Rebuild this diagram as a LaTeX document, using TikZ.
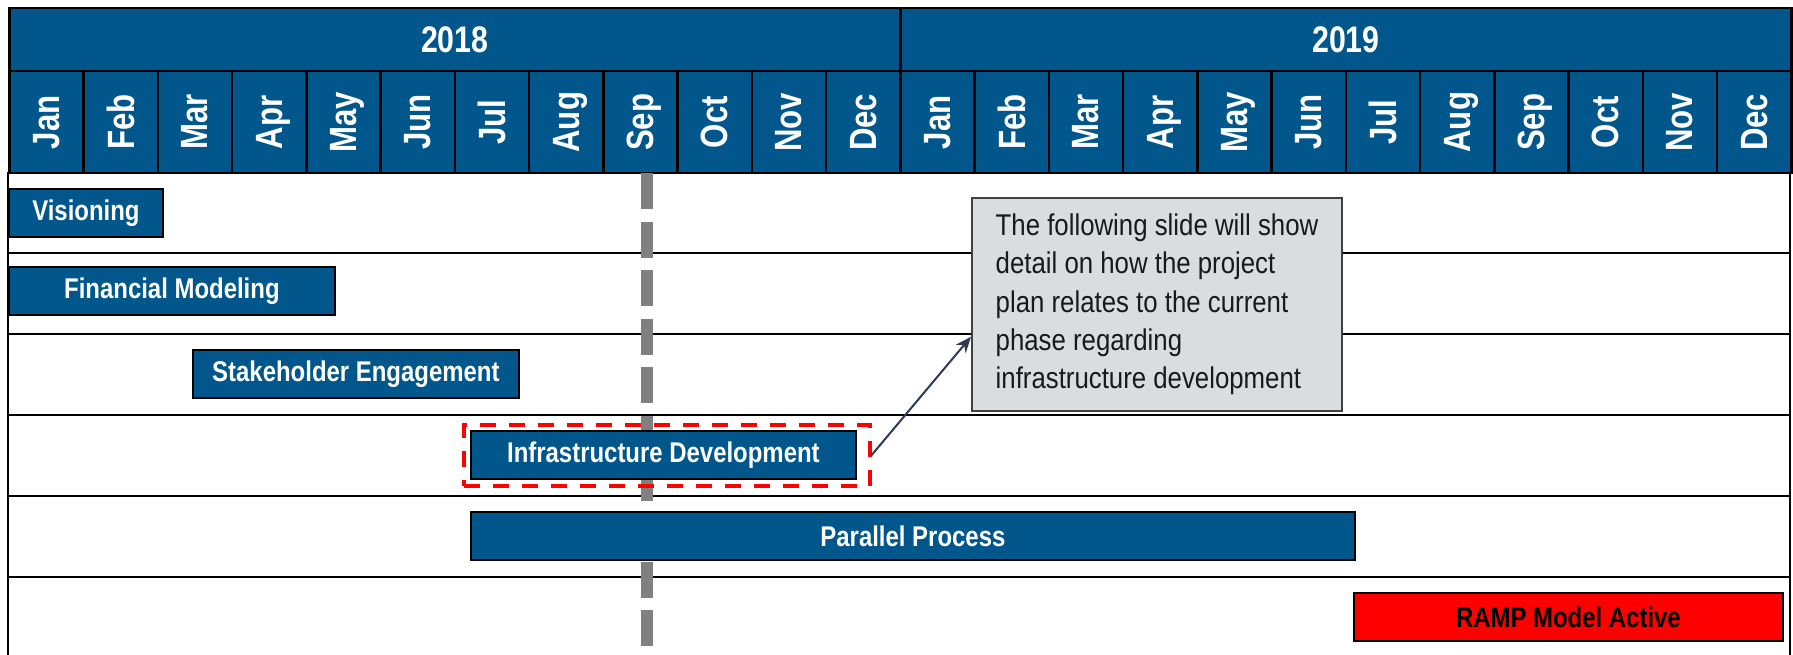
\documentclass[tikz,border=0pt]{standalone}
\usepackage{fontspec}
\setmainfont{Liberation Sans}
\newfontfamily\barfont{Liberation Sans}[FakeStretch=0.84]
\newfontfamily\hdrfont{Liberation Sans}[FakeStretch=0.82]
\newfontfamily\callfont{Liberation Sans}[FakeStretch=0.86]
\usetikzlibrary{arrows.meta,calc}
\definecolor{hdrblue}{RGB}{1,86,140}
\definecolor{calloutgray}{RGB}{218,221,223}
\definecolor{calloutedge}{RGB}{64,64,64}
\definecolor{connnavy}{RGB}{46,58,88}
\definecolor{markgray}{RGB}{128,128,128}
\begin{document}
\begin{tikzpicture}[x=1pt,y=-1pt,
  cell/.style={draw=black, line width=2.5pt, fill=hdrblue, text=white, inner sep=0pt, anchor=north west},
  yearcell/.style={cell, minimum width=891.125pt, minimum height=63pt, font=\hdrfont\bfseries\fontsize{37}{40}\selectfont},
  monthcell/.style={cell, minimum width=74.25pt, minimum height=102pt, font=\hdrfont\bfseries\fontsize{38}{40}\selectfont},
  rowline/.style={draw=black, line width=2.5pt},
  bar/.style={draw=black, line width=1.8pt, fill=hdrblue, text=white, inner sep=0pt, anchor=north west, minimum height=48pt, font=\barfont\bfseries\fontsize{28.5}{32}\selectfont},
  hlbox/.style={draw=red, line width=3.5pt, dash pattern=on 16pt off 13pt, inner sep=0pt, anchor=north west},
  marker/.style={draw=markgray, line width=12pt, dash pattern=on 36pt off 12.6pt},
  callout/.style={draw=calloutedge, line width=2pt, fill=calloutgray, text=black!90, anchor=north west, minimum width=370pt, minimum height=213pt, align=left, inner sep=0pt, font=\callfont\fontsize{30}{38.3}\selectfont},
  conn/.style={draw=connnavy, line width=2pt, -{Stealth[length=16pt,width=13pt]}}
]
\useasboundingbox (0,0) rectangle (1793,655);
\fill[white] (0,0) rectangle (1793,655);
% header
\node[yearcell] (y18) at (8,7) {2018};
\node[yearcell] (y19) at (899.125,7) {2019};
\foreach \mn [count=\i from 0] in {Jan,Feb,Mar,Apr,May,Jun,Jul,Aug,Sep,Oct,Nov,Dec,Jan,Feb,Mar,Apr,May,Jun,Jul,Aug,Sep,Oct,Nov,Dec}
  \node[monthcell] (m\i) at ({8+74.25*\i},70) {\rotatebox{90}{\raisebox{0pt}[\height][0pt]{\mn}}};
% grid
\foreach \yy in {253,334,415,496,577}
  \draw[rowline] (8,\yy) -- (1790,\yy);
\draw[rowline] (8,172) -- (8,656);
\draw[rowline] (1790,172) -- (1790,656);
% today marker
\coordinate (mk1) at (646.5,173);
\coordinate (mk2) at (646.5,647);
\draw[marker] (mk1) -- (mk2);
% bars
\node[bar, minimum width=154pt] (vis) at (8,188) {Visioning};
\node[bar, minimum width=326pt] (fin) at (8,266) {Financial Modeling};
\node[bar, minimum width=326pt] (stake) at (192,349) {Stakeholder Engagement};
\node[bar, minimum width=385pt] (infra) at (470,430) {Infrastructure Development};
\node[bar, minimum width=884pt] (par) at (470,511) {Parallel Process};
\node[bar, fill=red, text=black, minimum width=429pt] (ramp) at (1353,592) {RAMP Model Active};
% highlight
\node[hlbox, minimum width=406pt, minimum height=61pt] (hl) at (462,423) {};
% callout
\node[callout] (note) at (971,197) {The following slide will show\\detail on how the project\\plan relates to the current\\phase regarding\\infrastructure development};
\draw[conn] (hl.east) -- ($(note.north west)!0.65!(note.south west)$);
\end{tikzpicture}
\end{document}
